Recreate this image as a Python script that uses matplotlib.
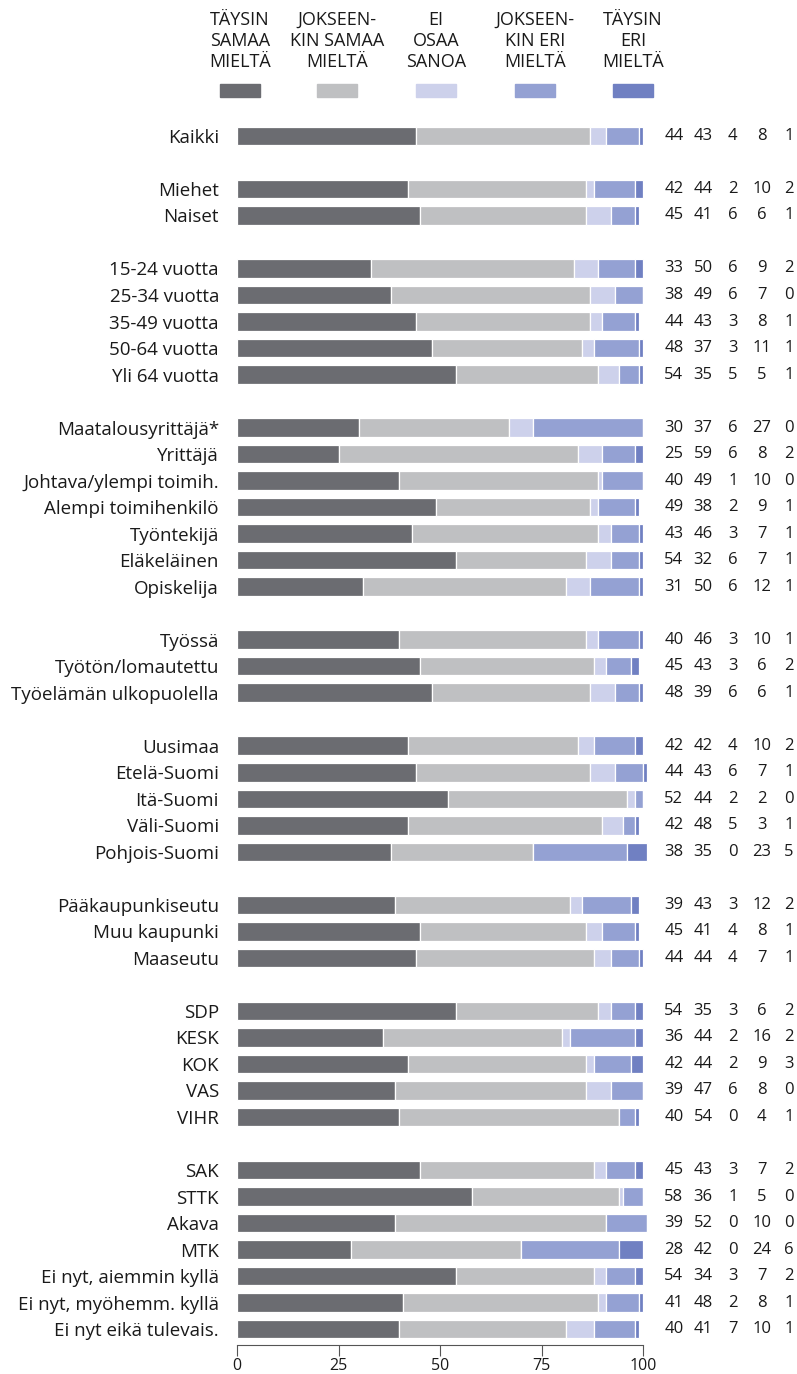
import matplotlib
matplotlib.use("Agg")
import matplotlib.pyplot as plt
import numpy as np

plt.rcParams['font.family'] = ['Open Sans', 'DejaVu Sans']

# Row groups, a blank slot is left between groups
groups = [
    ["Kaikki"],
    ["Miehet", "Naiset"],
    ["15-24 vuotta", "25-34 vuotta", "35-49 vuotta", "50-64 vuotta", "Yli 64 vuotta"],
    ["Maatalousyrittäjä*", "Yrittäjä", "Johtava/ylempi toimih.", "Alempi toimihenkilö",
     "Työntekijä", "Eläkeläinen", "Opiskelija"],
    ["Työssä", "Työtön/lomautettu", "Työelämän ulkopuolella"],
    ["Uusimaa", "Etelä-Suomi", "Itä-Suomi", "Väli-Suomi", "Pohjois-Suomi"],
    ["Pääkaupunkiseutu", "Muu kaupunki", "Maaseutu"],
    ["SDP", "KESK", "KOK", "VAS", "VIHR"],
    ["SAK", "STTK", "Akava", "MTK", "Ei nyt, aiemmin kyllä",
     "Ei nyt, myöhemm. kyllä", "Ei nyt eikä tulevais."],
]

taysin_samaa = [44, 42, 45, 33, 38, 44, 48, 54, 30, 25, 40, 49, 43, 54, 31,
                40, 45, 48, 42, 44, 52, 42, 38, 39, 45, 44, 54, 36, 42, 39, 40,
                45, 58, 39, 28, 54, 41, 40]
jokseenkin_samaa = [43, 44, 41, 50, 49, 43, 37, 35, 37, 59, 49, 38, 46, 32, 50,
                    46, 43, 39, 42, 43, 44, 48, 35, 43, 41, 44, 35, 44, 44, 47, 54,
                    43, 36, 52, 42, 34, 48, 41]
ei_osaa = [4, 2, 6, 6, 6, 3, 3, 5, 6, 6, 1, 2, 3, 6, 6,
           3, 3, 6, 4, 6, 2, 5, 0, 3, 4, 4, 3, 2, 2, 6, 0,
           3, 1, 0, 0, 3, 2, 7]
jokseenkin_eri = [8, 10, 6, 9, 7, 8, 11, 5, 27, 8, 10, 9, 7, 7, 12,
                  10, 6, 6, 10, 7, 2, 3, 23, 12, 8, 7, 6, 16, 9, 8, 4,
                  7, 5, 10, 24, 7, 8, 10]
taysin_eri = [1, 2, 1, 2, 0, 1, 1, 1, 0, 2, 0, 1, 1, 1, 1,
              1, 2, 1, 2, 1, 0, 1, 5, 2, 1, 1, 2, 2, 3, 0, 1,
              2, 0, 0, 6, 2, 1, 1]

series_labels = ["TÄYSIN\nSAMAA\nMIELTÄ", "JOKSEEN-\nKIN SAMAA\nMIELTÄ", "EI\nOSAA\nSANOA",
                 "JOKSEEN-\nKIN ERI\nMIELTÄ", "TÄYSIN\nERI\nMIELTÄ"]
colors = ["#6b6c71", "#bfc0c2", "#cdd1eb", "#94a1d3", "#7080c2"]
ticks = [0, 25, 50, 75, 100]

# slot positions: one row per category plus a gap row between groups
labels = []
ypos = []
slot = 0
for g in groups:
    for name in g:
        labels.append(name)
        ypos.append(slot)
        slot += 1
    slot += 1
ypos = np.array(ypos)

values = np.array([taysin_samaa, jokseenkin_samaa, ei_osaa, jokseenkin_eri, taysin_eri])

fig = plt.figure(figsize=(7.97, 13.74), dpi=100)
ax = fig.add_axes([237 / 797, 29 / 1374, 406 / 797, 1225 / 1374])

left = np.zeros(len(labels))
for vals, col in zip(values, colors):
    ax.barh(ypos, vals, left=left, height=0.7, color=col,
            edgecolor="white", linewidth=0.9, clip_on=False)
    left += vals

ax.set_ylim(ypos[-1] + 0.6, -0.6)
ax.set_xlim(0, 100)

ax.set_yticks(ypos)
ax.set_yticklabels(labels, fontsize=13.5, color="#1a1a1a")
ax.tick_params(axis="y", length=0, pad=13)

ax.set_xticks(ticks)
ax.set_xticklabels([str(t) for t in ticks], fontsize=11.5, color="#1a1a1a")
ax.tick_params(axis="x", length=8, width=0.8, color="#555555", pad=1)

for s in ["top", "right", "left"]:
    ax.spines[s].set_visible(False)
ax.spines["bottom"].set_color("#555555")
ax.spines["bottom"].set_linewidth(0.8)

# value columns on the right
col_x = [107.6, 114.8, 122.1, 129.2, 136.0]
for i, y in enumerate(ypos):
    for j, cx in enumerate(col_x):
        ax.text(cx, y, str(values[j][i]), ha="center", va="center",
                fontsize=12, color="#1a1a1a", clip_on=False)

# legend header above the bars
leg_x = [240, 337, 436, 535, 633]
for lx, lab, col in zip(leg_x, series_labels, colors):
    fig.text(lx / 797, 1 - 41 / 1374, lab, ha="center", va="center",
             fontsize=13, color="#1a1a1a", linespacing=1.2)
    fig.patches.append(plt.Rectangle(((lx - 20) / 797, 1 - 97 / 1374), 40 / 797, 13 / 1374,
                                     transform=fig.transFigure, color=col))

fig.savefig("out.png", dpi=100)
